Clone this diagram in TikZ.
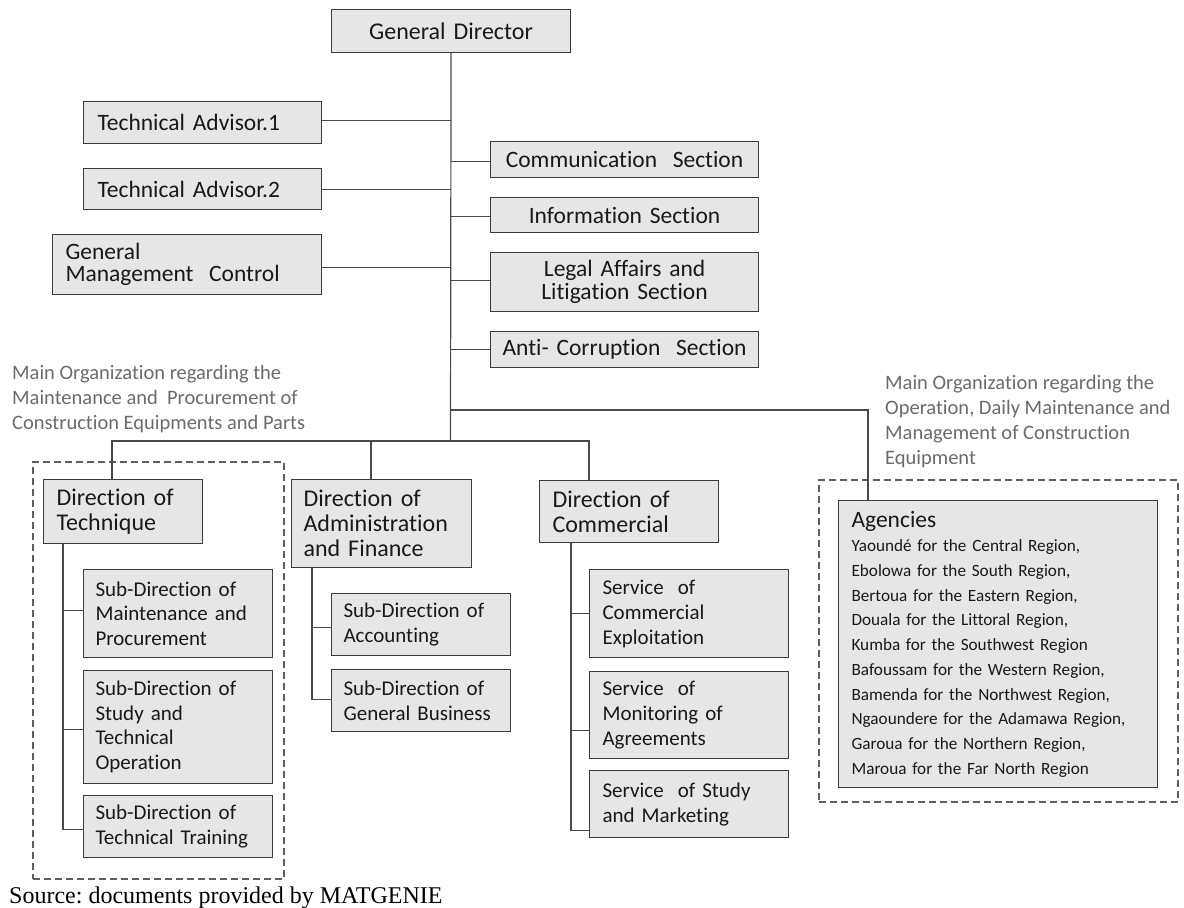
\documentclass[tikz,border=0pt]{standalone}
\usepackage{fontspec}
\setmainfont{Carlito}[Ligatures=NoCommon]
\newfontfamily\srcfont{Liberation Serif}
\frenchspacing

\definecolor{boxfill}{HTML}{E6E6E6}
\definecolor{boxline}{HTML}{3C3C3C}
\definecolor{wirecol}{HTML}{4A4A4A}
\definecolor{groupcol}{HTML}{5E5E5E}
\definecolor{notegray}{HTML}{6B6B6B}

\tikzset{
  unitbox/.style={draw=boxline, fill=boxfill, line width=1.1pt, anchor=north west,
                  inner ysep=0pt, text=black!90},
  lbox/.style={unitbox, align=left},
  cbox/.style={unitbox, align=center, inner xsep=6pt},
  wire/.style={draw=wirecol, line width=1.2pt},
  groupbox/.style={draw=groupcol, line width=2.4pt, dash pattern=on 7pt off 4pt,
                   anchor=north west, inner sep=0pt},
  note/.style={text=notegray, align=left, anchor=north west, inner sep=0pt,
               font=\fontsize{20.5}{25}\selectfont},
  topfont/.style={font=\fontsize{23.5}{23}\selectfont},
  dirfont/.style={font=\fontsize{24}{25}\selectfont},
  subfont/.style={font=\fontsize{21}{24.5}\selectfont},
  servfont/.style={font=\fontsize{21}{25}\selectfont},
  agfont/.style={font=\fontsize{17.2}{24.7}\selectfont},
}

\begin{document}
\begin{tikzpicture}[x=1pt, y=-1pt]
\useasboundingbox (0,0) rectangle (1184,908);

% dashed groupings
\node[groupbox, minimum width=251pt, minimum height=417pt] (grpL) at (32,461) {};
\node[groupbox, minimum width=359pt, minimum height=322pt] (grpR) at (818,479) {};

% head
\node[cbox, minimum width=239pt, minimum height=43pt, text width=227pt,
      font=\fontsize{24}{25}\selectfont] (gd) at (331,9) {General Director};

% staff units on the left
\node[lbox, topfont, inner xsep=14pt, minimum width=238pt, minimum height=42pt, text width=210pt]
  (ta1) at (83,101) {Technical Advisor.1};
\node[lbox, topfont, inner xsep=14pt, minimum width=238pt, minimum height=41pt, text width=210pt]
  (ta2) at (83,168) {Technical Advisor.2};
\node[lbox, font=\fontsize{23.5}{21.5}\selectfont, inner xsep=13pt, minimum width=269pt,
      minimum height=60pt, text width=243pt]
  (gmc) at (52,234) {General\\Management~ Control};

% sections on the right
\node[cbox, topfont, minimum width=268pt, minimum height=36pt, text width=256pt]
  (comm) at (490,141) {Communication~ Section};
\node[cbox, topfont, minimum width=268pt, minimum height=35pt, text width=256pt]
  (info) at (490,197) {Information Section};
\node[cbox, font=\fontsize{23.5}{23}\selectfont, minimum width=268pt, minimum height=59pt,
      text width=256pt]
  (legal) at (490,252) {Legal Affairs and\\Litigation Section};
\node[cbox, topfont, minimum width=268pt, minimum height=36pt, text width=256pt]
  (anti) at (490,331) {Anti- Corruption~ Section};

% directions
\node[lbox, dirfont, inner xsep=13pt, minimum width=159pt, minimum height=64pt, text width=133pt]
  (dtech) at (43,479) {Direction of\\Technique};
\node[lbox, dirfont, inner xsep=12pt, minimum width=180pt, minimum height=88pt, text width=156pt]
  (dadm) at (291,479) {Direction of\\Administration\\and Finance};
\node[lbox, dirfont, inner xsep=13pt, minimum width=179pt, minimum height=62pt, text width=153pt]
  (dcom) at (539,480) {Direction of\\Commercial};

% sub-directions of technique
\node[lbox, subfont, inner xsep=12pt, minimum width=189pt, minimum height=88pt, text width=165pt]
  (sub1) at (83,569) {Sub-Direction of\\Maintenance and\\Procurement};
\node[lbox, subfont, inner xsep=12pt, minimum width=189pt, minimum height=113pt, text width=165pt]
  (sub2) at (83,670) {Sub-Direction of\\Study and\\Technical\\Operation};
\node[lbox, subfont, inner xsep=12pt, minimum width=189pt, minimum height=62pt, text width=165pt]
  (sub3) at (83,795) {Sub-Direction of\\Technical Training};

% sub-directions of administration and finance
\node[lbox, subfont, inner xsep=12pt, minimum width=179pt, minimum height=62pt, text width=155pt]
  (acc) at (331,593) {Sub-Direction of\\Accounting};
\node[lbox, subfont, inner xsep=12pt, minimum width=179pt, minimum height=62pt, text width=155pt]
  (gbus) at (331,669) {Sub-Direction of\\General Business};

% services of the commercial direction
\node[lbox, servfont, inner xsep=13pt, minimum width=199pt, minimum height=88pt, text width=173pt]
  (serv1) at (589,569) {Service~ of\\Commercial\\Exploitation};
\node[lbox, servfont, inner xsep=13pt, minimum width=199pt, minimum height=87pt, text width=173pt]
  (serv2) at (589,671) {Service~ of\\Monitoring of\\Agreements};
\node[lbox, servfont, inner xsep=13pt, minimum width=199pt, minimum height=67pt, text width=173pt]
  (serv3) at (589,770) {Service~ of Study\\and Marketing};

% regional agencies
\node[lbox, agfont, inner xsep=13pt, minimum width=319pt, minimum height=287pt, text width=293pt]
  (ag) at (838,500) {{\fontsize{23.5}{24.7}\selectfont Agencies}\\
  Yaoundé for the Central Region,\\
  Ebolowa for the South Region,\\
  Bertoua for the Eastern Region,\\
  Douala for the Littoral Region,\\
  Kumba for the Southwest Region\\
  Bafoussam for the Western Region,\\
  Bamenda for the Northwest Region,\\
  Ngaoundere for the Adamawa Region,\\
  Garoua for the Northern Region,\\
  Maroua for the Far North Region};

% annotations
\node[note] (noteL) at (12,365)
  {Main Organization regarding the\\Maintenance and~ Procurement of\\Construction Equipments and Parts};
\node[note] (noteR) at (885,375)
  {Main Organization regarding the\\Operation, Daily Maintenance and\\Management of Construction\\Equipment};
\node[anchor=base west, inner sep=0pt, font=\srcfont\fontsize{24}{26}\selectfont]
  (src) at (9,903) {Source: documents provided by MATGENIE};

% trunk and branches
\coordinate (agjoin) at (450.5,410);
\coordinate (bus) at (450.5,441);
\draw[wire] (gd.south) -- (bus);
\draw[wire] ([yshift=2pt]ta1.east) -- ([yshift=2pt]ta1.east -| gd.south);
\draw[wire] ([yshift=-0.5pt]ta2.east) -- ([yshift=-0.5pt]ta2.east -| gd.south);
\draw[wire] ([yshift=-3pt]gmc.east) -- ([yshift=-3pt]gmc.east -| gd.south);
\draw[wire] ([yshift=-2pt]comm.west) -- ([yshift=-2pt]comm.west -| gd.south);
\draw[wire] ([yshift=-1.5pt]info.west) -- ([yshift=-1.5pt]info.west -| gd.south);
\draw[wire] ([yshift=1.5pt]legal.west) -- ([yshift=1.5pt]legal.west -| gd.south);
\draw[wire] (anti.west) -- (anti.west -| gd.south);
\draw[wire] (agjoin) -| ([xshift=30pt]ag.north west);
\draw[wire] (bus) -| ([xshift=69pt]dtech.north west);
\draw[wire] (bus) -| ([xshift=50pt]dcom.north west);
\draw[wire] ([xshift=80pt]dadm.north west) |- (bus);

% stems under the directions
\coordinate (tstem) at ([xshift=20pt]dtech.south west);
\draw[wire] (tstem) |- ([yshift=-3pt]sub3.west);
\draw[wire] ([yshift=3pt]sub1.west) -- ([yshift=3pt]sub1.west -| tstem);
\draw[wire] ([yshift=-2.5pt]sub2.west) -- ([yshift=-2.5pt]sub2.west -| tstem);

\coordinate (astem) at ([xshift=21pt]dadm.south west);
\draw[wire] (astem) |- ([yshift=1pt]gbus.west);
\draw[wire] ([yshift=-3pt]acc.west) -- ([yshift=-3pt]acc.west -| astem);

\coordinate (cstem) at ([xshift=32pt]dcom.south west);
\draw[wire] (cstem) |- ([yshift=-26.5pt]serv3.west);
\draw[wire] (serv1.west) -- (serv1.west -| cstem);
\draw[wire] ([yshift=-15.5pt]serv2.west) -- ([yshift=-15.5pt]serv2.west -| cstem);
\end{tikzpicture}
\end{document}
